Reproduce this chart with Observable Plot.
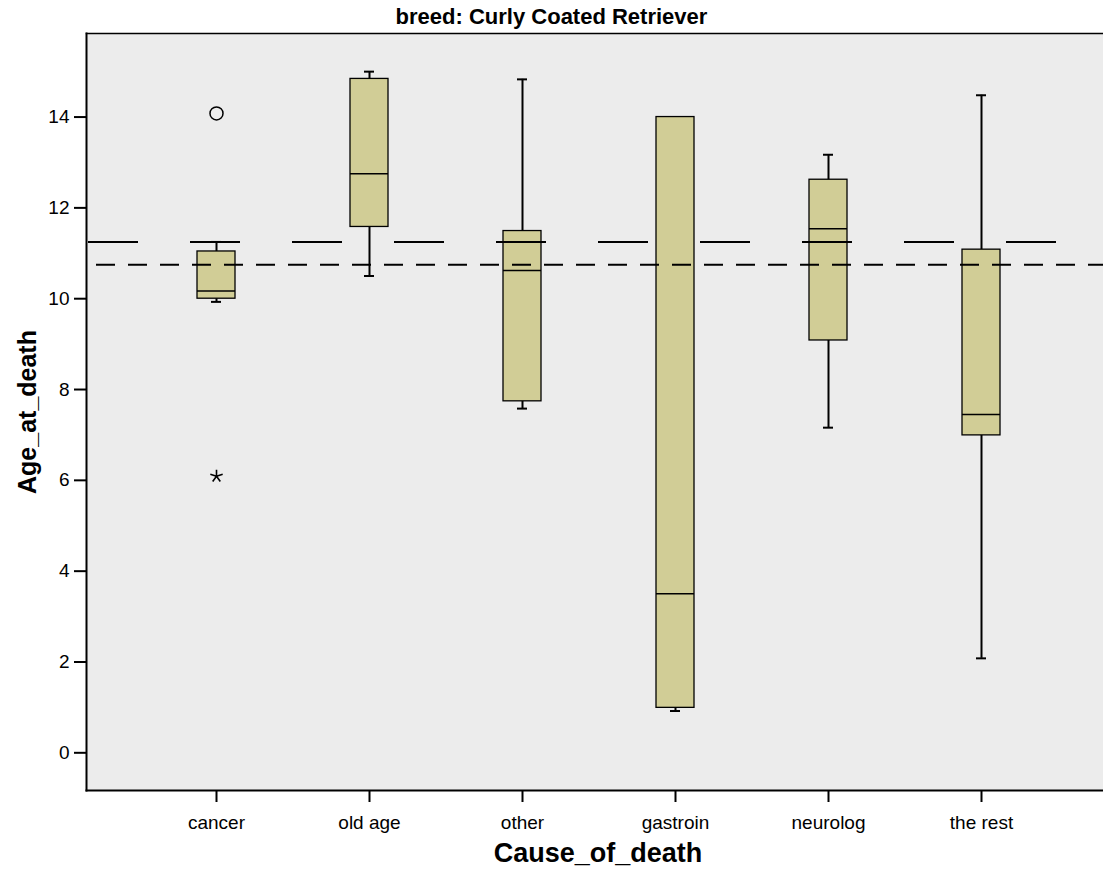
<!DOCTYPE html>
<html><head><meta charset="utf-8">
<script src="https://cdn.jsdelivr.net/npm/d3@7"></script>
<script src="https://cdn.jsdelivr.net/npm/@observablehq/plot@0.6"></script>
<style>
body{margin:0;background:#fff;overflow:hidden;font-family:"Liberation Sans",Arial,sans-serif;}
#wrap{position:relative;width:1103px;height:872px;overflow:hidden;}
#title{position:absolute;top:5px;left:0;width:1103px;text-align:center;font-weight:bold;font-size:22px;line-height:24px;}
#chart{position:absolute;top:31px;left:0;width:1112px;}
#chart svg{max-width:none !important;}
#ylab{position:absolute;left:27px;top:412px;transform:translate(-50%,-50%) rotate(-90deg);font-weight:bold;font-size:25px;white-space:nowrap;}
#xlab{position:absolute;left:598px;top:853px;transform:translate(-50%,-50%);font-weight:bold;font-size:27px;white-space:nowrap;}
</style></head>
<body>
<div id="wrap">
<div id="title">breed: Curly Coated Retriever</div>
<div id="chart"></div>
<div id="ylab">Age_at_death</div>
<div id="xlab">Cause_of_death</div>
</div>
<script>
const causes = ["cancer", "old age", "other", "gastroin", "neurolog", "the rest"];
const lowWhisker = [9.93, 10.5, 7.58, 0.92, 7.16, 2.08];
const q1 = [10.0, 11.58, 7.74, 0.99, 9.08, 6.99];
const median = [10.17, 12.75, 10.62, 3.5, 11.54, 7.45];
const q3 = [11.04, 14.84, 11.49, 14.0, 12.62, 11.08];
const highWhisker = [11.25, 15.0, 14.83, 14.0, 13.17, 14.48];
const outlierCause = ["cancer"];
const outlierValue = [14.08];
const extremeCause = ["cancer"];
const extremeValue = [6.09];
const meanLine = [11.25];
const dashLine = [10.75];
const yTicks = [0, 2, 4, 6, 8, 10, 12, 14];

const boxes = causes.map((c, i) => ({cause: c, lo: lowWhisker[i], q1: q1[i], med: median[i], q3: q3[i], hi: highWhisker[i]}));
const outliers = outlierCause.map((c, i) => ({cause: c, v: outlierValue[i]}));
const extremes = extremeCause.map((c, i) => ({cause: c, v: extremeValue[i]}));

const asterisk5 = {
  draw(ctx, size) {
    const r = Math.sqrt(size / Math.PI);
    for (let i = 0; i < 5; i++) {
      const a = -Math.PI / 2 + i * 2 * Math.PI / 5;
      ctx.moveTo(0, 0);
      ctx.lineTo(r * Math.cos(a), r * Math.sin(a));
    }
  }
};

const chart = Plot.plot({
  width: 1112, height: 841,
  marginLeft: 86, marginRight: 1, marginTop: 2, marginBottom: 82,
  x: {domain: causes, paddingInner: 0.75, paddingOuter: 0.707},
  y: {domain: [-0.83, 15.84]},
  style: {fontFamily: "'Liberation Sans', Arial, sans-serif", fontSize: "19px", background: "transparent", color: "black", maxWidth: "none"},
  marks: [
    Plot.frame({fill: "#ececec", stroke: "none"}),
    Plot.ruleX(boxes, {x: "cause", y1: "q3", y2: "hi", stroke: "black", strokeWidth: 2}),
    Plot.ruleX(boxes, {x: "cause", y1: "lo", y2: "q1", stroke: "black", strokeWidth: 2}),
    Plot.tickY(boxes, {filter: d => d.hi > d.q3, x: "cause", y: "hi", inset: 14, stroke: "black", strokeWidth: 2}),
    Plot.tickY(boxes, {filter: d => d.lo < d.q1, x: "cause", y: "lo", inset: 14, stroke: "black", strokeWidth: 2}),
    Plot.barY(boxes, {x: "cause", y1: "q1", y2: "q3", fill: "#d1cd96", stroke: "black", strokeWidth: 1.3}),
    Plot.tickY(boxes, {x: "cause", y: "med", stroke: "black", strokeWidth: 1.5}),
    Plot.dot(outliers, {x: "cause", y: "v", r: 6.5, symbol: "circle", stroke: "black", fill: "none", strokeWidth: 1.5}),
    Plot.dot(extremes, {x: "cause", y: "v", r: 6.5, symbol: asterisk5, stroke: "black", fill: "none", strokeWidth: 1.6}),
    Plot.ruleY(meanLine, {stroke: "black", strokeWidth: 2, strokeDasharray: "50,52", strokeDashoffset: -2}),
    Plot.ruleY(dashLine, {stroke: "black", strokeWidth: 2, strokeDasharray: "19,13", strokeDashoffset: 22}),
    Plot.frame({anchor: "top", stroke: "black", strokeWidth: 1.5}),
    Plot.frame({anchor: "left", stroke: "black", strokeWidth: 2}),
    Plot.frame({anchor: "bottom", stroke: "black", strokeWidth: 2}),
    Plot.axisY({ticks: yTicks, tickFormat: d => String(d), tickSize: 12, tickPadding: 5, strokeWidth: 2, label: null, fontSize: 19}),
    Plot.axisX({tickSize: 12, tickPadding: 13, strokeWidth: 2, label: null, fontSize: 19})
  ]
});
document.getElementById("chart").appendChild(chart);
</script>
</body></html>
